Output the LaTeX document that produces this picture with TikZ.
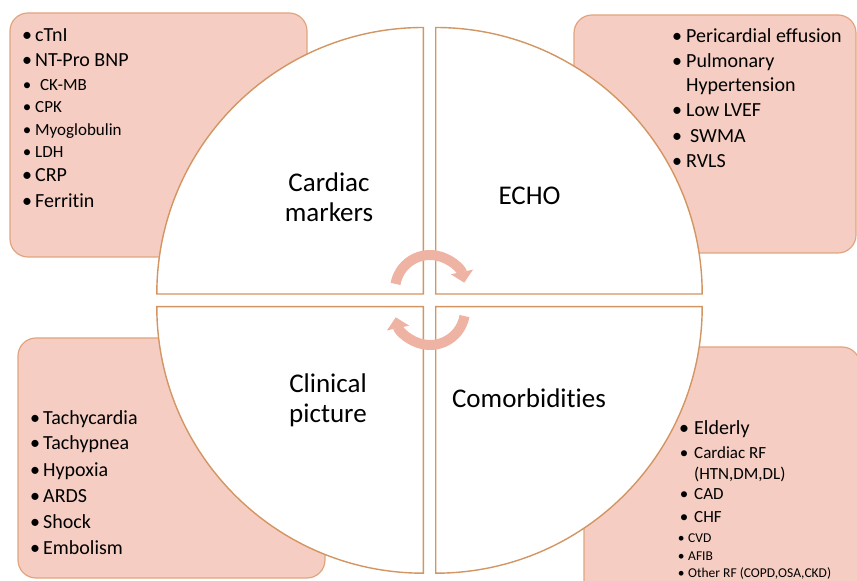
\documentclass[tikz,border=0pt]{standalone}
\usepackage{fontspec}
\setmainfont{Carlito}[Ligatures={NoCommon}]
\usetikzlibrary{arrows.meta}
\definecolor{boxfill}{HTML}{F5CDC2}
\definecolor{boxline}{HTML}{E2A47E}
\definecolor{quadline}{HTML}{D39562}
\definecolor{arrowcol}{HTML}{EEB3A3}
\newcommand\blt[1]{\llap{\makebox[#1][c]{\textbullet}}}
\begin{document}
\begin{tikzpicture}[x=1pt,y=1pt,
  infobox/.style={draw=boxline, fill=boxfill, line width=1.2pt, rounded corners=18pt},
  quad/.style={draw=quadline, fill=white, line width=1.4pt},
  item/.style={anchor=base west, inner sep=0pt},
  big/.style={item, font=\fontsize{20}{24}\selectfont},
  mid/.style={item, font=\fontsize{17}{20}\selectfont},
  small/.style={item, font=\fontsize{13.5}{16}\selectfont},
  qlabel/.style={align=center, font=\fontsize{27}{30}\selectfont, anchor=base, inner sep=0pt},
  cyc/.style={draw=arrowcol, line width=10pt, -{Triangle[length=11pt,width=22pt]}}
]
\useasboundingbox (0,0) rectangle (857,581);
\clip (0,0) rectangle (857,581);

% background boxes
\draw[infobox] (10,324) rectangle (307,568);
\draw[infobox] (574,328) rectangle (856,566);
\draw[infobox] (18,3) rectangle (325,243);
\draw[infobox] (584,-20) rectangle (860,234);

% quadrants
\draw[quad] (423.3,287) -- (156.8,287) arc[start angle=180,end angle=90,radius=266.5] -- cycle;
\draw[quad] (435.7,287) -- (435.7,553.5) arc[start angle=90,end angle=0,radius=266.5] -- cycle;
\draw[quad] (423.3,274.3) -- (423.3,7.8) arc[start angle=270,end angle=180,radius=266.5] -- cycle;
\draw[quad] (435.7,274.3) -- (702.2,274.3) arc[start angle=0,end angle=-90,radius=266.5] -- cycle;

% cycle arrows
\draw[cyc] (430,291) ++(170:35) arc[start angle=170,end angle=12,radius=35];
\draw[cyc] (430,271) ++(-10:35) arc[start angle=-10,end angle=-168,radius=35];

% quadrant labels
\node[qlabel] (cm) at (329,359) {Cardiac\\markers};
\node[qlabel] (echo) at (529.5,376) {ECHO};
\node[qlabel] (cp) at (328,158) {Clinical\\picture};
\node[qlabel] (co) at (529,173) {Comorbidities};

% cardiac markers list
\node[big] (tl1) at (35,539) {\blt{16pt}cTnI};
\node[big] (tl2) at (35,514) {\blt{16pt}NT-Pro BNP};
\node[mid] (tl3) at (40,490) {\blt{26pt}CK-MB};
\node[mid] (tl4) at (35,468) {\blt{16pt}CPK};
\node[mid] (tl5) at (35,445) {\blt{16pt}Myoglobulin};
\node[mid] (tl6) at (35,423) {\blt{16pt}LDH};
\node[big] (tl7) at (35,399) {\blt{16pt}CRP};
\node[big] (tl8) at (35,373) {\blt{16pt}Ferritin};

% echo list
\node[big] (tr1) at (686,538) {\blt{18pt}Pericardial effusion};
\node[big] (tr2) at (686,513) {\blt{18pt}Pulmonary};
\node[big] (tr2b) at (686,489) {Hypertension};
\node[big] (tr3) at (686,464) {\blt{18pt}Low LVEF};
\node[big] (tr4) at (690,438) {\blt{26pt}SWMA};
\node[big] (tr5) at (686,413) {\blt{18pt}RVLS};

% clinical picture list
\node[big] (bl1) at (43,156) {\blt{16pt}Tachycardia};
\node[big] (bl2) at (43,131) {\blt{16pt}Tachypnea};
\node[big] (bl3) at (43,104) {\blt{16pt}Hypoxia};
\node[big] (bl4) at (43,78) {\blt{16pt}ARDS};
\node[big] (bl5) at (43,52) {\blt{16pt}Shock};
\node[big] (bl6) at (43,26) {\blt{16pt}Embolism};

% comorbidities list
\node[big] (br1) at (694,146) {\blt{20pt}Elderly};
\node[mid] (br2) at (694,122) {\blt{20pt}Cardiac RF};
\node[mid] (br2b) at (694,101) {(HTN,DM,DL)};
\node[mid] (br3) at (694,81) {\blt{20pt}CAD};
\node[mid] (br4) at (694,58) {\blt{20pt}CHF};
\node[small] (br5) at (688,38) {\blt{14pt}CVD};
\node[small] (br6) at (688,20) {\blt{14pt}AFIB};
\node[small] (br7) at (688,3) {\blt{14pt}Other RF (COPD,OSA,CKD)};
\end{tikzpicture}
\end{document}
